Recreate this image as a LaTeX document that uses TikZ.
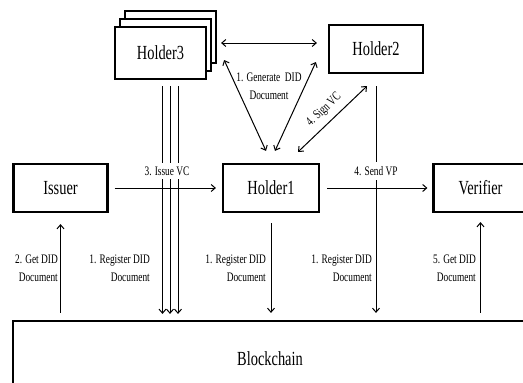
\documentclass[tikz,border=0pt]{standalone}
\usepackage{fontspec}
\setmainfont{Liberation Serif}
\newfontfamily\condserif{Liberation Serif}[FakeStretch=0.72]
\usetikzlibrary{calc,arrows.meta}
\tikzset{
  box/.style={draw, line width=2.2pt, fill=white, minimum width=94pt, minimum height=48pt, inner sep=0pt, font=\condserif\fontsize{20}{24}\selectfont},
  arr/.style={line width=1pt, -{Straight Barb[length=4pt,width=7pt]}},
  darr/.style={line width=1pt, {Straight Barb[length=4pt,width=7pt]}-{Straight Barb[length=4pt,width=7pt]}},
  lbl/.style={font=\condserif\fontsize{13}{18}\selectfont, inner sep=0pt},
  lblw/.style={lbl, fill=white, inner xsep=1pt, inner ysep=4pt},
}
\begin{document}
\begin{tikzpicture}[x=1pt,y=-1pt]
\useasboundingbox (0,0) rectangle (523,383);
\clip (0,0) rectangle (523,383);
% Holder3 stack
\node[box, minimum width=91pt, minimum height=52pt] (h3c) at (170.5,37) {};
\node[box, minimum width=91pt, minimum height=52pt] (h3b) at (165.5,45) {};
\node[box, minimum width=91pt, minimum height=52pt] (h3) at (160.5,53) {Holder3};
\node[box] (h2) at (376,49) {Holder2};
\node[box] (is) at (60.5,188) {Issuer};
\node[box, minimum width=96pt] (h1) at (271,188) {Holder1};
\node[box] (ve) at (480.5,188) {Verifier};
\node[box, minimum width=514pt, minimum height=76pt] (bc) at (270,359) {Blockchain};

% top triangle
\draw[darr] ($(h3c.east)+(4,6)$) -- ($(h2.west)+(-11,-6)$);
\draw[darr] ($(h3.east)+(17,7)$) -- ($(h1.north)+(-5,-12)$);
\draw[darr] ($(h2.west)+(-12,13)$) -- ($(h1.north)+(4,-12)$);
\draw[darr] ($(h1.north)+(27,-11)$) -- node[lbl, midway, above=6pt, sloped]{4. Sign VC} ($(h2.south)+(-9,12)$);
\node[lbl, align=center] (gen) at (269,86) {1. Generate~ DID\\Document};

% Holder3 three lines
\foreach \dx [count=\i] in {2,9.5,17.5}{
  \coordinate (t\i) at ($(h3.south)+(\dx,6)$);
  \draw[arr, shorten >=6pt] (t\i) -- (t\i |- bc.north);
}
% Holder2 line
\draw[arr, shorten >=7pt] ($(h2.south)+(0,12)$) -- (h2.south |- bc.north);
% Holder1 down
\draw[arr, shorten >=7pt] ($(h1.south)+(0,10)$) -- (h1.south |- bc.north);
% Issuer up
\draw[arr, shorten <=7pt] (is.south |- bc.north) -- ($(is.south)+(0,11)$);
% Verifier up
\draw[arr, shorten <=7pt] (ve.south |- bc.north) -- ($(ve.south)+(0,9)$);

% labels over the vertical lines
\node[lblw] (issue) at (167,171) {3. Issue VC};
\node[lblw] (send) at (376,171) {4. Send VP};

% horizontal arrows
\draw[arr, shorten <=6pt, shorten >=6pt] (is) -- (h1);
\draw[arr, shorten <=7pt, shorten >=5pt] (h1) -- (ve);

% labels
\node[lbl, align=right, anchor=east] (l2) at (58,268) {2. Get DID\\Document};
\node[lbl, align=right, anchor=east] (l1a) at (150,268) {1. Register DID\\Document};
\node[lbl, align=right, anchor=east] (l1b) at (266,268) {1. Register DID\\Document};
\node[lbl, align=right, anchor=east] (l1c) at (372,268) {1. Register DID\\Document};
\node[lbl, align=right, anchor=east] (l5) at (476,268) {5. Get DID\\Document};
\end{tikzpicture}
\end{document}
